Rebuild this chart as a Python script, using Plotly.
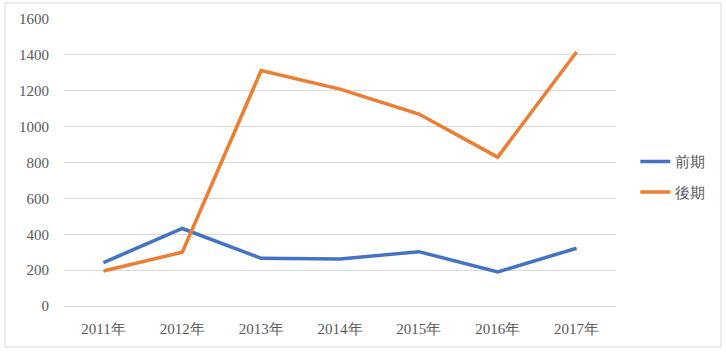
import plotly.graph_objects as go

categories = ["2011年", "2012年", "2013年", "2014年", "2015年", "2016年", "2017年"]
zenki = [242, 432, 266, 262, 303, 190, 322]
kouki = [195, 300, 1312, 1209, 1070, 830, 1416]
y_ticks = [0, 200, 400, 600, 800, 1000, 1200, 1400, 1600]

font_family = "Liberation Serif"

fig = go.Figure()
fig.add_trace(go.Scatter(x=categories, y=zenki, mode="lines", name="前期", legendgroup="a",
                         line=dict(color="#4472C4", width=3.5)))
fig.add_trace(go.Scatter(x=categories, y=kouki, mode="lines", name="後期", legendgroup="b",
                         line=dict(color="#ED7D31", width=3.5)))

fig.update_layout(
    width=726, height=352,
    margin=dict(l=64, r=110, t=19, b=46),
    paper_bgcolor="white", plot_bgcolor="white",
    font=dict(family=font_family, size=15, color="#595959"),
    showlegend=True,
    legend=dict(x=1.035, y=0.45, xanchor="left", yanchor="middle",
                font=dict(family=font_family, size=15, color="#595959"),
                tracegroupgap=8, bgcolor="rgba(0,0,0,0)"),
    xaxis=dict(type="category", range=[-0.5, 6.5], showgrid=False, showline=False,
               ticks="", tickfont=dict(size=15, family=font_family), fixedrange=True,
               ticklabelstandoff=12),
    yaxis=dict(range=[0, 1600], tickvals=y_ticks, showgrid=True, gridcolor="#D9D9D9",
               gridwidth=1, zeroline=True, zerolinecolor="#D9D9D9", zerolinewidth=1,
               showline=False, ticks="", tickfont=dict(size=15, family=font_family),
               ticklabelstandoff=14),
    shapes=[dict(type="rect", xref="paper", yref="paper",
                 x0=-59/552, x1=657/552, y0=-41/287, y1=(287+16)/287,
                 line=dict(color="#D9D9D9", width=1), fillcolor="rgba(0,0,0,0)", layer="below")],
)

fig.write_html("out.html")
